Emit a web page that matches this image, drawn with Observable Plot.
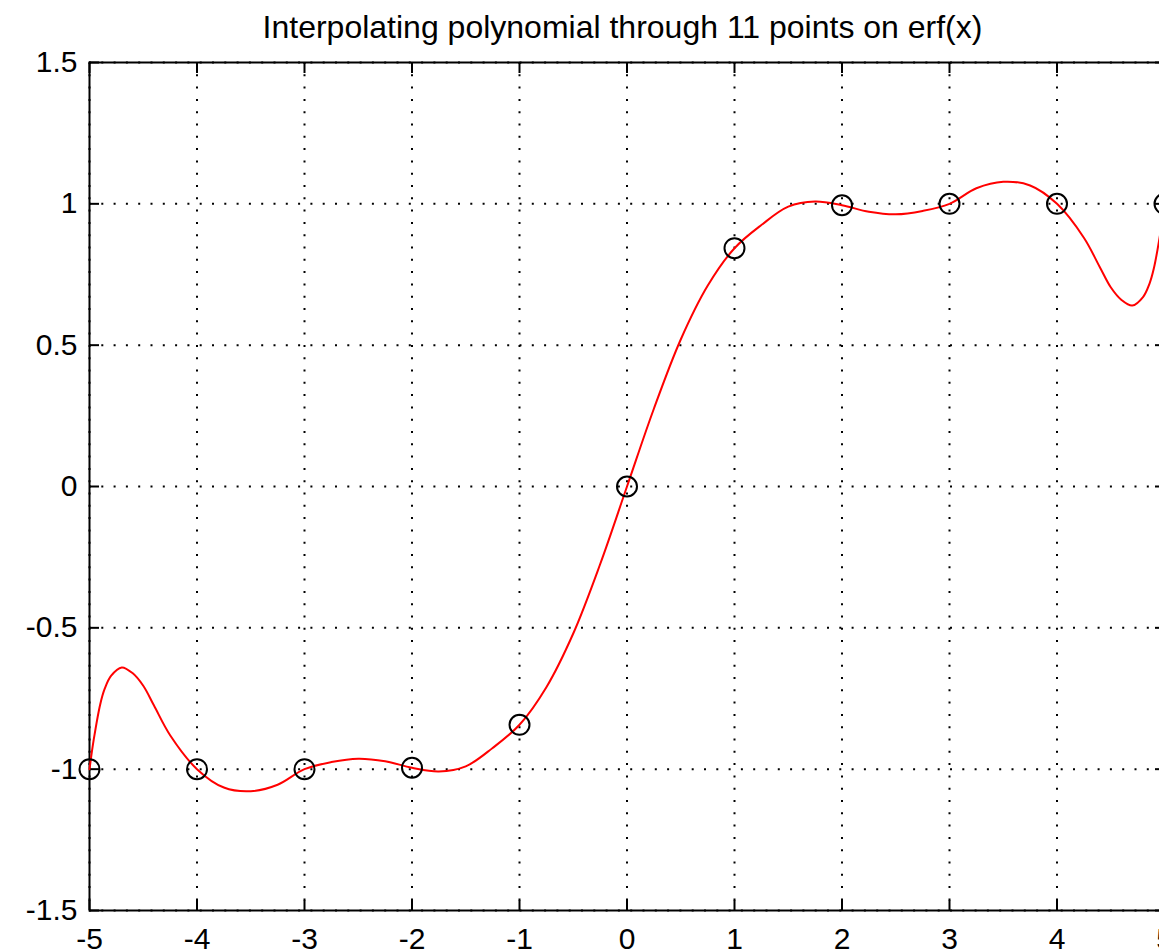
<!DOCTYPE html>
<html>
<head>
<meta charset="utf-8">
<script src="https://cdn.jsdelivr.net/npm/d3@7"></script>
<script src="https://cdn.jsdelivr.net/npm/@observablehq/plot@0.6"></script>
<style>
html, body { margin: 0; padding: 0; background: #fff; overflow: hidden; width: 1159px; height: 950px; }
#title { position: absolute; left: 0; top: 0; width: 1245px; height: 54px; line-height: 54px; text-align: center;
  font-family: "Liberation Sans", Arial, sans-serif; font-size: 32px; color: #000; }
#chart { position: absolute; left: 0; top: 50px; }
</style>
</head>
<body>
<div id="title">Interpolating polynomial through 11 points on erf(x)</div>
<div id="chart"></div>
<script>
// Tick values
const xTicks = [-5, -4, -3, -2, -1, 0, 1, 2, 3, 4, 5];
const yTicks = [-1.5, -1, -0.5, 0, 0.5, 1, 1.5];

// Sample points on erf(x) (circles)
const nodeX = [-5, -4, -3, -2, -1, 0, 1, 2, 3, 4, 5];
const nodeY = [-1.0, -1.0, -1.0, -0.995, -0.843, 0, 0.843, 0.995, 1.0, 1.0, 1.0];

// Interpolating polynomial, values (red curve)
const curveX = [-5, -4.96, -4.9, -4.86, -4.8, -4.7, -4.6, -4.5, -4.4, -4.25, -4, -3.75, -3.5, -3.25, -3, -2.75, -2.5, -2.25, -2, -1.75, -1.5, -1.25, -1, -0.75, -0.5, -0.25,
  0, 0.25, 0.5, 0.75, 1, 1.25, 1.5, 1.75, 2, 2.25, 2.5, 2.75, 3, 3.25, 3.5, 3.75, 4, 4.25, 4.4, 4.5, 4.6, 4.7, 4.8, 4.86, 4.9, 4.96, 5];
const curveY = [-1.0, -0.894, -0.77, -0.717, -0.67, -0.64, -0.66, -0.705, -0.775, -0.88, -1.0, -1.065, -1.078, -1.055, -1.0, -0.975, -0.963, -0.972, -0.995, -1.008, -0.99, -0.925, -0.843, -0.71, -0.52, -0.275,
  0, 0.275, 0.52, 0.71, 0.843, 0.925, 0.99, 1.008, 0.995, 0.972, 0.963, 0.975, 1.0, 1.055, 1.078, 1.065, 1.0, 0.88, 0.775, 0.705, 0.66, 0.64, 0.67, 0.717, 0.77, 0.894, 1.0];

const nodes = nodeX.map((x, i) => ({x, y: nodeY[i]}));
const curve = curveX.map((x, i) => ({x, y: curveY[i]}));
const fmt = d => String(d);

const plot = Plot.plot({
  width: 1200,
  height: 905,
  marginLeft: 89,
  marginRight: 36,
  marginTop: 12,
  marginBottom: 45,
  x: {domain: [-5, 5]},
  y: {domain: [-1.5, 1.5]},
  style: {fontFamily: "'Liberation Sans', Arial, sans-serif", fontSize: "30px", color: "#000", background: "#fff", maxWidth: "none", overflow: "visible"},
  marks: [
    Plot.gridX(xTicks, {stroke: "#000", strokeOpacity: 1, strokeWidth: 2, strokeDasharray: "2,10.3"}),
    Plot.gridY(yTicks, {stroke: "#000", strokeOpacity: 1, strokeWidth: 2, strokeDasharray: "2,10.3"}),
    Plot.frame({stroke: "#000", strokeWidth: 2}),
    Plot.axisX(xTicks, {anchor: "bottom", tickSize: -10, tickPadding: 27, tickFormat: fmt, label: null, fontSize: 30, strokeWidth: 2}),
    Plot.axisX(xTicks, {anchor: "top", tickSize: -10, tickFormat: () => "", label: null, strokeWidth: 2}),
    Plot.axisY(yTicks, {anchor: "left", tickSize: -10, tickPadding: 22, tickFormat: fmt, label: null, fontSize: 30, strokeWidth: 2}),
    Plot.axisY(yTicks, {anchor: "right", tickSize: -10, tickFormat: () => "", label: null, strokeWidth: 2}),
    Plot.line(curve, {x: "x", y: "y", stroke: "#ff0000", strokeWidth: 2, curve: "catmull-rom"}),
    Plot.dot(nodes, {x: "x", y: "y", r: 10, stroke: "#000", strokeWidth: 2, fill: "none"})
  ]
});
document.getElementById("chart").appendChild(plot);
</script>
</body>
</html>
